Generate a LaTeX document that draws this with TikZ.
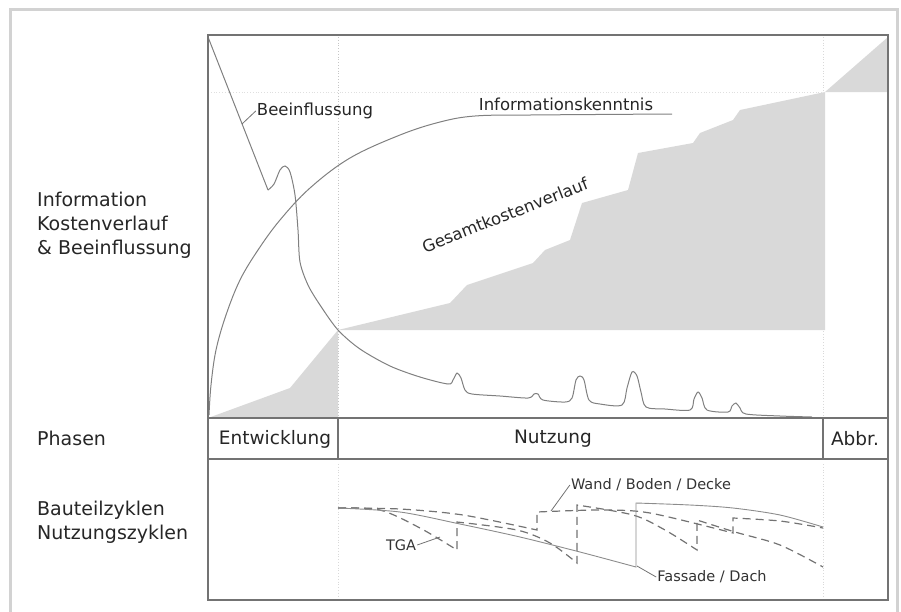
\documentclass[tikz,border=0pt]{standalone}
\usepackage{fontspec}
\setmainfont{DejaVu Sans}
\usepackage{tikz}
\usetikzlibrary{shapes,arrows}
\tikzstyle{frameLine} = [line width=3pt, draw=gray!35]
\tikzstyle{boxLine} = [line width=1.3pt, draw=black!55]
\tikzstyle{gridLine} = [dotted, line width=0.8pt, draw=gray!45]
\tikzstyle{costFill} = [fill=gray!30, draw=none]
\tikzstyle{curveLine} = [line width=1pt, draw=black!50]
\tikzstyle{cycleLine} = [dash pattern=on 8pt off 5pt, line width=1.2pt, draw=black!55]
\tikzstyle{facadeLine} = [line width=0.9pt, draw=black!45]
\tikzstyle{leaderLine} = [line width=0.8pt, draw=black!55]
\tikzstyle{sideLabel} = [anchor=west, align=left, inner sep=0pt, text=black!85,
font=\fontsize{19}{24}\selectfont]
\tikzstyle{phaseLabel} = [inner sep=0pt, text=black!85, font=\fontsize{18.5}{22}\selectfont]
\tikzstyle{curveLabel} = [inner sep=1pt, text=black!85, font=\fontsize{16.5}{20}\selectfont]
\tikzstyle{cycleLabel} = [inner sep=1pt, text=black!80, font=\fontsize{14.5}{18}\selectfont]

\begin{document}
\begin{tikzpicture}[x=1pt,y=-1pt]
		\useasboundingbox (0,0) rectangle (901,611);
		%frame
		\draw[frameLine] (10,625) -- (10,9) -- (897,9) -- (897,625);
		
		%fills
		\fill[costFill] (208,418) -- (290,388) -- (338,330) -- (338,418) -- cycle;
		\fill[costFill] (338,330) -- (450,303) -- (467,285) -- (533,263) -- (545,250) -- (570,240)
			-- (582,203) -- (628,190) -- (638,153) -- (693,143) -- (700,133) -- (733,120)
			-- (740,110) -- (825,92) -- (825,330) -- cycle;
		\fill[costFill] (825,92) -- (888,37) -- (888,92) -- cycle;
		
		%grid
		\draw[gridLine, draw=gray!25] (208,92) -- (825,92);
		\draw[gridLine] (338,37) -- (338,418);
		\draw[gridLine, draw=gray!30] (823,37) -- (823,418);
		\draw[gridLine, draw=gray!30] (338,464) -- (338,596);
		\draw[gridLine, draw=gray!30] (823,464) -- (823,596);
		
		%curves
		\draw[curveLine] (208,37) -- (268,190);
		\draw[curveLine] plot[smooth, tension=0.5] coordinates {(268,190) (274,184) (280,170) (285,166)
			(290,172) (295,195) (298,230) (300,262) (308,285) (320,305) (338,330) (360,349)
			(390,366) (420,377) (448,384) (453,380) (457,373) (461,378) (465,390) (472,394)
			(500,396) (528,398) (534,394) (538,394) (543,400) (565,402) (572,398) (576,380)
			(580,376) (584,380) (589,400) (600,404) (622,405) (627,388) (632,372) (637,376)
			(641,392) (646,407) (665,409) (690,410) (694,399) (698,392) (702,398) (707,410)
			(728,412) (732,406) (736,403) (740,408) (746,414) (780,416) (812,417)};
		\draw[curveLine] plot[smooth, tension=0.6] coordinates {(209,415) (211,385) (216,350)
			(226,315) (240,280) (258,250) (280,220) (310,188) (350,158) (400,135) (440,122)
			(475,116) (530,115) (672,114)};
		\coordinate (beeTip) at (242,124);
		
		%cycles
		\draw[cycleLine] plot[smooth] coordinates {(338,508) (380,510) (420,528) (457,550)}
			-- (457,522) -- plot[smooth] coordinates {(457,522) (517,530) (550,543) (577,563)}
			-- (577,505) -- plot[smooth] coordinates {(577,505) (633,515) (665,530) (697,550)}
			-- (697,520) -- plot[smooth] coordinates {(697,520) (735,532) (780,545) (823,567)};
		\draw[cycleLine] plot[smooth] coordinates {(338,508) (400,509) (463,515) (537,530)}
			-- (537,512) -- plot[smooth] coordinates {(537,512) (600,510) (650,513) (733,533)}
			-- (733,518) -- plot[smooth] coordinates {(733,518) (780,521) (823,528)};
		\draw[facadeLine] plot[smooth] coordinates {(338,508) (400,512) (460,524) (520,537)
			(580,552) (636,567)} -- (636,503) -- plot[smooth] coordinates {(636,503) (690,505)
			(733,508) (780,515) (823,527)};
		\coordinate (tgaTip) at (440,537);
		\coordinate (wandTip) at (551,511);
		\coordinate (fassadeTip) at (637,566);
		
		%boxes
		\draw[boxLine] (208,35) rectangle (888,600);
		\draw[boxLine] (208,418) -- (888,418);
		\draw[boxLine] (208,459) -- (888,459);
		\draw[boxLine] (338,418) -- (338,459);
		\draw[boxLine] (823,418) -- (823,459);
		
		%labels
		\node[sideLabel](info) at (37,225){Information\\Kostenverlauf\\\& Beeinflussung};
		\node[sideLabel](phasen) at (37,438){Phasen};
		\node[sideLabel](zyklen) at (37,522){Bauteilzyklen\\Nutzungszyklen};
		\node[phaseLabel](entw) at (275,439){Entwicklung};
		\node[phaseLabel](nutz) at (553,439){Nutzung};
		\node[phaseLabel](abbr) at (855,439){Abbr.};
		\node[curveLabel](beeLabel) at (315,111){Beeinflussung};
		\node[curveLabel](infoLabel) at (566,104){Informationskenntnis};
		\node[curveLabel, rotate=21.5](costLabel) at (505,215){Gesamtkostenverlauf};
		\node[cycleLabel](tgaLabel) at (401,545){TGA};
		\node[cycleLabel](wandLabel) at (651,485){Wand / Boden / Decke};
		\node[cycleLabel](fassadeLabel) at (712,577){Fassade / Dach};
		
		%leaders
		\draw[leaderLine](beeTip)--(beeLabel.west);
		\draw[leaderLine](tgaLabel.east)--(tgaTip);
		\draw[leaderLine](wandTip)--(wandLabel.west);
		\draw[leaderLine](fassadeTip)--(fassadeLabel.west);
	\end{tikzpicture}
\end{document}
